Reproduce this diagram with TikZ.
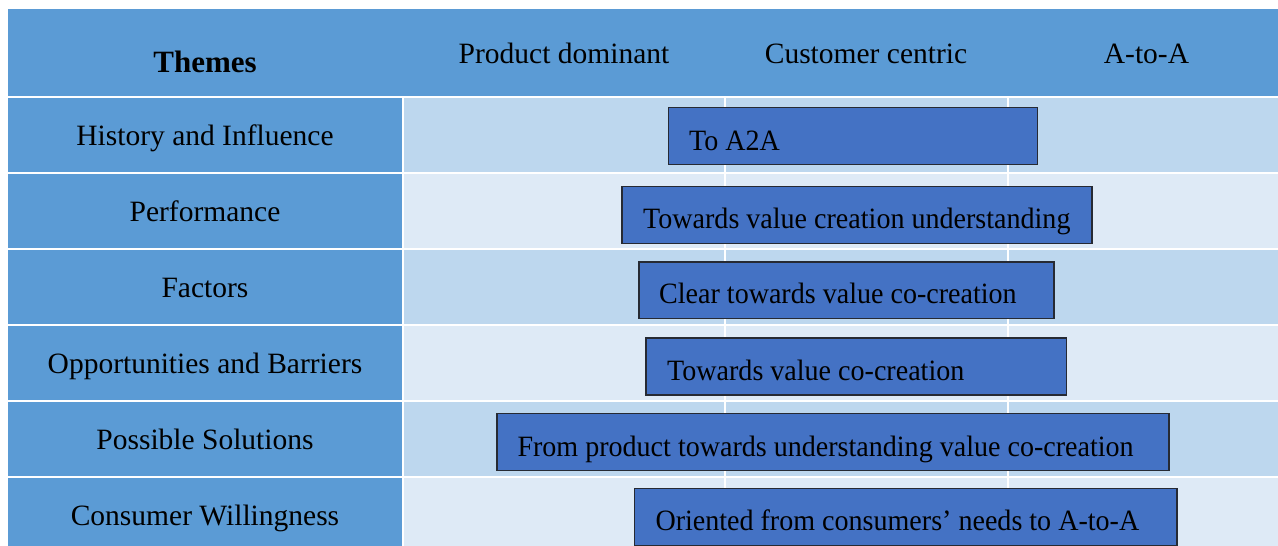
\documentclass[tikz,border=0pt]{standalone}
\usepackage{fontspec}
\setmainfont{Liberation Serif}
% slightly condensed face for the text inside the bars
\newfontfamily\barfont[FakeStretch=0.951]{Liberation Serif}
\definecolor{headblue}{HTML}{5B9BD5}
\definecolor{rowdark}{HTML}{BDD7EE}
\definecolor{rowlight}{HTML}{DEEAF6}
\definecolor{barblue}{HTML}{4472C4}
\definecolor{barline}{HTML}{262A33}
\tikzset{
  cellbox/.style={inner sep=0pt, outer sep=0pt, draw=none, anchor=north west},
  barbox/.style={inner sep=0pt, outer sep=0pt, fill=barblue, draw=barline, line width=1.1pt, anchor=north west},
  bartext/.style={inner sep=0pt, anchor=base west, font=\barfont\fontsize{29.5}{34}\selectfont},
  themetext/.style={inner sep=0pt, anchor=base, font=\fontsize{29.5}{34}\selectfont},
  headtext/.style={inner sep=0pt, anchor=base, font=\fontsize{29.5}{34}\selectfont},
  divider/.style={draw=white, line width=2pt},
}
\begin{document}
\begin{tikzpicture}[x=1pt, y=-1pt]
  \useasboundingbox (0,0) rectangle (1278,546);
  \fill[white] (0,0) rectangle (1278,546);

  % header band
  \node[cellbox, fill=headblue, minimum width=1270pt, minimum height=87pt] (head) at (8,9) {};
  \node[inner sep=0pt, anchor=base, font=\fontsize{31}{36}\selectfont\bfseries] (themes) at (205,72) {Themes};
  \node[headtext] (hpd) at (564,63) {Product dominant};
  \node[headtext] (hcc) at (866,63) {Customer centric};
  \node[headtext] (haa) at (1146.5,63) {A-to-A};

  % theme rows: left label cell and shaded timeline cell
  \foreach \i/\top/\shade in {1/98/rowdark, 2/174/rowlight, 3/250/rowdark, 4/326/rowlight, 5/402/rowdark, 6/478/rowlight} {
    \node[cellbox, fill=headblue, minimum width=394pt, minimum height=74pt] (lc\i) at (8,\top) {};
    \node[cellbox, fill=\shade, minimum width=874pt, minimum height=74pt] (rc\i) at (404,\top) {};
  }

  % column dividers across the timeline cells
  \coordinate (d1top) at (725,98);
  \coordinate (d1bot) at (725,546);
  \coordinate (d2top) at (1008,98);
  \coordinate (d2bot) at (1008,546);
  \draw[divider] (d1top) -- (d1bot);
  \draw[divider] (d2top) -- (d2bot);
  \foreach \y in {172,248,324,400,476} {
    \draw[divider] (404,\y+1) -- (1278,\y+1);
  }

  % theme labels
  \node[themetext] (t1) at (205,145.5) {History and Influence};
  \node[themetext] (t2) at (205,221.5) {Performance};
  \node[themetext] (t3) at (205,297.5) {Factors};
  \node[themetext] (t4) at (205,373.5) {Opportunities and Barriers};
  \node[themetext] (t5) at (205,449.5) {Possible Solutions};
  \node[themetext] (t6) at (205,525.5) {Consumer Willingness};

  % orientation bars
  \node[barbox, minimum width=369pt, minimum height=57pt] (b1) at (668.7,107.3) {};
  \node[bartext] (l1) at (689,150) {To A2A};

  \node[barbox, minimum width=470pt, minimum height=57pt] (b2) at (622,186.7) {};
  \node[bartext] (l2) at (643,228.3) {Towards value creation understanding};

  \node[barbox, minimum width=415pt, minimum height=56.7pt] (b3) at (639,262) {};
  \node[bartext] (l3) at (659,303) {Clear towards value co-creation};

  \node[barbox, minimum width=420.7pt, minimum height=57pt] (b4) at (646,338) {};
  \node[bartext] (l4) at (667,380) {Towards value co-creation};

  \node[barbox, minimum width=672pt, minimum height=57pt] (b5) at (497,413.7) {};
  \node[bartext] (l5) at (517.3,456) {From product towards understanding value co-creation};

  \node[barbox, minimum width=542.3pt, minimum height=57pt] (b6) at (634.7,488.7) {};
  \node[bartext] (l6) at (655.3,530) {Oriented from consumers’ needs to A-to-A};
\end{tikzpicture}
\end{document}
